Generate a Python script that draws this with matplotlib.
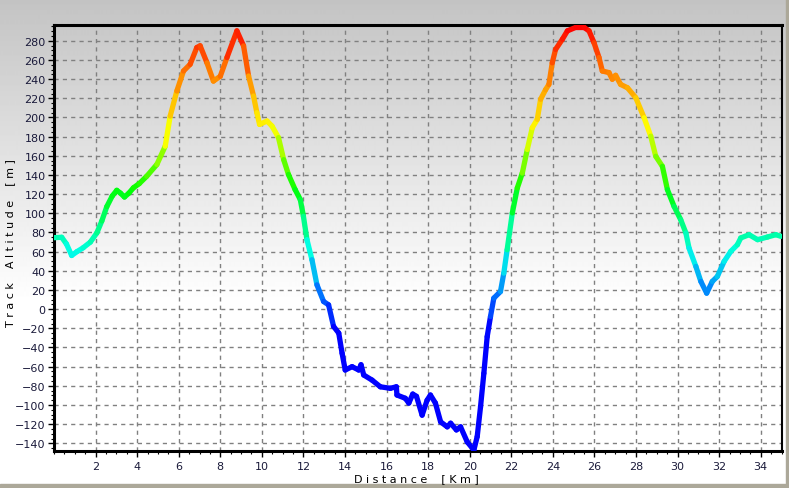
import numpy as np
import matplotlib
matplotlib.use("Agg")
import matplotlib.pyplot as plt
from matplotlib.collections import LineCollection
from matplotlib.colors import LinearSegmentedColormap, Normalize
from matplotlib.ticker import MultipleLocator

# profil : distance (km) / altitude (m)
distance_km = [0.0, 0.37, 0.6, 0.85, 1.1, 1.4, 1.75, 2.06, 2.3, 2.54, 2.8, 3.02, 3.2, 3.39,
               3.6, 3.82, 4.1, 4.46, 4.95, 5.35, 5.59, 5.91, 6.23, 6.55, 6.87, 7.03, 7.36,
               7.67, 8.0, 8.32, 8.8, 9.12, 9.36, 9.6, 9.76, 9.89, 10.25, 10.49, 10.8, 11.05,
               11.28, 11.6, 11.85, 12.0, 12.17, 12.41, 12.65, 12.97, 13.21, 13.45, 13.7,
               13.86, 14.01, 14.34, 14.66, 14.77, 14.9, 15.3, 15.7, 16.18, 16.47, 16.5,
               16.9, 17.07, 17.26, 17.44, 17.71, 17.95, 18.11, 18.35, 18.6, 18.92, 19.08,
               19.36, 19.56, 19.88, 20.2, 20.36, 20.52, 20.68, 20.84, 21.0, 21.16, 21.48,
               21.64, 21.8, 22.05, 22.29, 22.53, 22.77, 23.01, 23.25, 23.41, 23.65, 23.81,
               23.97, 24.13, 24.46, 24.7, 25.1, 25.5, 25.74, 25.98, 26.22, 26.38, 26.7,
               26.86, 27.02, 27.26, 27.59, 27.99, 28.39, 28.71, 28.95, 29.27, 29.51, 29.83,
               30.15, 30.4, 30.55, 30.88, 31.12, 31.4, 31.67, 31.91, 32.24, 32.56, 32.88,
               33.04, 33.44, 33.85, 34.33, 34.73, 34.97]
altitude_m = [74.6, 75, 68, 56, 60, 64, 70, 79.5, 92, 107, 118, 124, 121, 117,
              121, 126.6, 131, 138.7, 151, 170, 201.5, 227.6, 248.5, 255.5, 273, 274.8, 257,
              238, 243, 262.5, 290.4, 274.7, 243.3, 222.4, 205, 192.8, 196.3, 191, 179, 156,
              140.5, 124.8, 114.3, 96.9, 72.5, 51.6, 25.4, 8, 4.5, -18, -25,
              -46, -63.5, -60, -63.5, -58, -68.7, -74, -81, -82.6, -81, -89.6,
              -93, -98, -88.6, -91, -110.6, -95, -89.6, -98, -117.6, -122.8, -119,
              -126, -122.8, -138.5, -147, -133, -102, -67, -28.7, -7.7, 11.5, 18.4,
              37.6, 62, 100.4, 126.5, 142, 166.6, 189.3, 198, 219, 229, 234.5,
              257, 271, 281.7, 290.4, 294, 294, 290.4, 278, 262.5, 248.5, 246.8,
              239.9, 244, 234.5, 231, 220.6, 199.7, 180.5, 159.5, 149, 124.8, 107.3,
              93.4, 79.5, 63.8, 44.6, 28.9, 16.7, 28.9, 34, 49.8, 60.3, 67.3,
              74.3, 77.7, 72.5, 75.3, 77.7, 76]

x_ticks = list(range(2, 35, 2))
y_ticks = list(range(-140, 281, 20))

W, H = 789, 489
fig = plt.figure(figsize=(W / 100, H / 100), dpi=100)

# fond en degrade gris -> blanc
bg = fig.add_axes([0, 0, 1, 1], zorder=-10)
rows = np.linspace(0, 1, H)
shade = np.clip(0.765 + (1 - 0.765) * rows / 0.62, 0, 1)
bg.imshow(np.repeat(shade[:, None], 2, axis=1), cmap="gray", vmin=0, vmax=1,
          aspect="auto", extent=[0, 1, 0, 1], origin="upper")
bg.axis("off")
# bordure beige en bas / a droite
fig.patches.append(plt.Rectangle((0, 0), 1, 4 / H, transform=fig.transFigure,
                                 color="#aca899", zorder=-5))
fig.patches.append(plt.Rectangle((1 - 3 / W, 0), 3 / W, 1, transform=fig.transFigure,
                                 color="#aca899", zorder=-5))

ax = fig.add_axes([54 / W, 1 - 452 / H, (781.5 - 54) / W, (452 - 26) / H])
ax.set_facecolor("none")

cmap = LinearSegmentedColormap.from_list(
    "alt", [(0.0, "#0000ff"), (0.29, "#0000ff"), (0.37, "#0070ff"), (0.47, "#00ffe8"),
            (0.62, "#00ff00"), (0.76, "#ffff00"), (0.88, "#ff8c00"), (1.0, "#ff0000")])
norm = Normalize(-150, 295)

pts = np.column_stack([distance_km, altitude_m]).reshape(-1, 1, 2)
segs = np.concatenate([pts[:-1], pts[1:]], axis=1)
mid = 0.5 * (np.array(altitude_m[:-1]) + np.array(altitude_m[1:]))
lc = LineCollection(segs, cmap=cmap, norm=norm, linewidths=3.8, capstyle="round",
                    joinstyle="round", zorder=3)
lc.set_array(mid)
ax.add_collection(lc)

ax.set_xlim(0, 35)
ax.set_ylim(-148, 296.5)
ax.set_xticks(x_ticks)
ax.set_yticks(y_ticks)
ax.xaxis.set_minor_locator(MultipleLocator(0.5))
ax.yaxis.set_minor_locator(MultipleLocator(5))
ax.grid(True, which="major", color="#808080", linestyle=(0, (3, 3)), linewidth=1)
ax.set_axisbelow(True)

txt = "#1a1a3a"
ax.tick_params(which="both", direction="out", colors="black", labelcolor=txt, labelsize=8)
ax.tick_params(which="major", length=4, width=1, pad=3)
ax.tick_params(axis="y", which="major", pad=2)
ax.tick_params(which="minor", length=2.5, width=0.8)

for side in ["top", "left", "bottom"]:
    ax.spines[side].set_linewidth(2.2)
ax.spines["right"].set_linewidth(1.5)

ax.set_xlabel("D i s t a n c e    [ K m ]", fontsize=8, color="black")
ax.xaxis.set_label_coords((416 - 54) / (781.5 - 54), -(474 - 452) / (452 - 26))
ax.set_ylabel("T r a c k    A l t i t u d e    [ m ]", fontsize=8, color="black")
ax.yaxis.set_label_coords(-(54 - 15) / (781.5 - 54), (452 - 243) / (452 - 26))

fig.savefig("out.png", dpi=100)
